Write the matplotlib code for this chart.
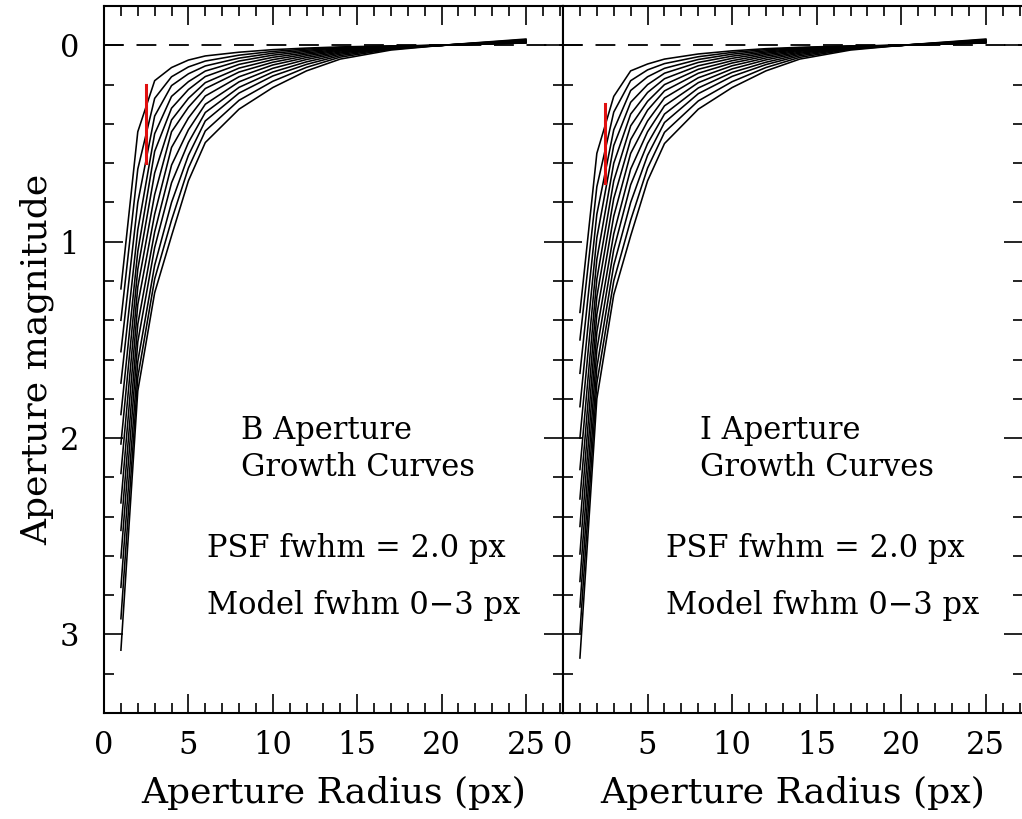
import numpy as np
import matplotlib
matplotlib.use("Agg")
import matplotlib.pyplot as plt

plt.rcParams['font.family'] = ['DejaVu Serif']

# aperture radii (px) where the growth curves are sampled
radii = [1, 2, 3, 4, 5, 6, 8, 10, 12, 14, 17, 20, 25]

# B band: one row per radius, one column per model fwhm (0 .. 3 px)
b_rows = [
    [1.24, 1.40, 1.56, 1.72, 1.88, 2.03, 2.18, 2.33, 2.47, 2.61, 2.76, 2.92, 3.08],
    [0.44, 0.63, 0.80, 0.94, 1.05, 1.14, 1.23, 1.32, 1.42, 1.51, 1.61, 1.69, 1.76],
    [0.18, 0.27, 0.36, 0.45, 0.54, 0.65, 0.76, 0.86, 0.95, 1.03, 1.12, 1.19, 1.26],
    [0.113, 0.16, 0.205, 0.26, 0.32, 0.38, 0.44, 0.52, 0.61, 0.70, 0.80, 0.89, 0.97],
    [0.075, 0.11, 0.145, 0.185, 0.225, 0.27, 0.315, 0.37, 0.43, 0.495, 0.56, 0.625, 0.69],
    [0.054, 0.080, 0.105, 0.131, 0.159, 0.19, 0.22, 0.258, 0.30, 0.342, 0.385, 0.436, 0.495],
    [0.035, 0.05, 0.065, 0.08, 0.097, 0.116, 0.136, 0.16, 0.186, 0.214, 0.243, 0.28, 0.325],
    [0.022, 0.031, 0.040, 0.05, 0.061, 0.073, 0.086, 0.10, 0.117, 0.136, 0.156, 0.183, 0.215],
    [0.014, 0.019, 0.025, 0.031, 0.038, 0.045, 0.053, 0.062, 0.072, 0.084, 0.097, 0.112, 0.13],
    [0.008, 0.011, 0.014, 0.017, 0.021, 0.025, 0.029, 0.034, 0.039, 0.045, 0.052, 0.06, 0.07],
    [0.003, 0.004, 0.005, 0.006, 0.007, 0.008, 0.009, 0.011, 0.013, 0.015, 0.017, 0.02, 0.024],
    [0.0, 0.0, 0.0, 0.0, 0.0, 0.0, 0.0, 0.0, 0.0, 0.0, 0.0, 0.0, 0.0],
    [-0.012, -0.013, -0.014, -0.015, -0.016, -0.018, -0.019, -0.021, -0.023, -0.025, -0.027, -0.029, -0.032],
]

# I band, same layout
i_rows = [
    [1.36, 1.50, 1.67, 1.84, 2.00, 2.16, 2.31, 2.45, 2.59, 2.73, 2.86, 2.99, 3.12],
    [0.55, 0.72, 0.86, 0.98, 1.09, 1.19, 1.28, 1.37, 1.46, 1.55, 1.64, 1.72, 1.80],
    [0.26, 0.34, 0.43, 0.51, 0.60, 0.69, 0.78, 0.87, 0.96, 1.04, 1.12, 1.20, 1.27],
    [0.13, 0.18, 0.23, 0.29, 0.35, 0.41, 0.48, 0.55, 0.63, 0.71, 0.80, 0.89, 0.97],
    [0.095, 0.125, 0.16, 0.20, 0.24, 0.285, 0.33, 0.385, 0.44, 0.50, 0.56, 0.625, 0.69],
    [0.07, 0.093, 0.117, 0.142, 0.17, 0.20, 0.232, 0.268, 0.308, 0.35, 0.393, 0.443, 0.50],
    [0.044, 0.058, 0.072, 0.087, 0.104, 0.122, 0.142, 0.165, 0.19, 0.217, 0.246, 0.283, 0.325],
    [0.028, 0.036, 0.045, 0.055, 0.066, 0.078, 0.09, 0.104, 0.12, 0.138, 0.158, 0.185, 0.215],
    [0.017, 0.022, 0.028, 0.034, 0.04, 0.047, 0.055, 0.064, 0.074, 0.086, 0.098, 0.113, 0.13],
    [0.01, 0.013, 0.016, 0.019, 0.022, 0.026, 0.03, 0.035, 0.04, 0.046, 0.053, 0.061, 0.07],
    [0.003, 0.004, 0.005, 0.006, 0.007, 0.008, 0.009, 0.011, 0.013, 0.015, 0.017, 0.02, 0.024],
    [0.0, 0.0, 0.0, 0.0, 0.0, 0.0, 0.0, 0.0, 0.0, 0.0, 0.0, 0.0, 0.0],
    [-0.012, -0.013, -0.014, -0.015, -0.016, -0.018, -0.019, -0.021, -0.023, -0.025, -0.027, -0.029, -0.032],
]

# red marker: radius and magnitude range
b_marker = [2.5, 0.2, 0.6]
i_marker = [2.5, 0.3, 0.7]

b_title = ["B Aperture", "Growth Curves"]
i_title = ["I Aperture", "Growth Curves"]
notes = ["PSF fwhm = 2.0 px", "Model fwhm 0\u22123 px"]


def draw_panel(ax, rows, marker, title):
    mags = np.array(rows).T
    for curve in mags:
        ax.plot(radii, curve, color='black', lw=1.15)
    ax.axhline(0.0, color='black', lw=1.3, dashes=(11, 7))
    ax.plot([marker[0], marker[0]], [marker[1], marker[2]], color='#e01010', lw=2.2)

    ax.text(8.1, 1.96, title[0], fontsize=22, va='center')
    ax.text(8.1, 2.15, title[1], fontsize=22, va='center')
    ax.text(6.1, 2.56, notes[0], fontsize=22, va='center')
    ax.text(6.1, 2.85, notes[1], fontsize=22, va='center')

    ax.set_xlim(0, 27.2)
    ax.set_ylim(3.4, -0.2)
    ax.set_xticks([0, 5, 10, 15, 20, 25])
    ax.set_xticks(np.arange(0, 28, 1), minor=True)
    ax.set_yticks([0, 1, 2, 3])
    ax.set_yticks(np.arange(-0.2, 3.41, 0.2), minor=True)
    ax.tick_params(which='both', direction='in', top=True, right=True,
                   width=1.2, labelsize=22)
    ax.tick_params(axis='x', pad=12)
    ax.tick_params(axis='y', pad=18)
    ax.tick_params(which='major', length=14)
    ax.tick_params(which='minor', length=7.5)
    for s in ax.spines.values():
        s.set_linewidth(1.5)
    ax.set_xlabel("Aperture Radius (px)", fontsize=26, labelpad=11)


fig = plt.figure(figsize=(10.22, 8.19), dpi=100)
ax1 = fig.add_axes([0.1018, 0.1294, 0.4491, 0.8632])
ax2 = fig.add_axes([0.5509, 0.1294, 0.4501, 0.8632])

draw_panel(ax1, b_rows, b_marker, b_title)
draw_panel(ax2, i_rows, i_marker, i_title)

ax1.set_ylabel("Aperture magnitude", fontsize=26, labelpad=4)
ax2.tick_params(labelleft=False)

fig.savefig("out.png", dpi=100)
